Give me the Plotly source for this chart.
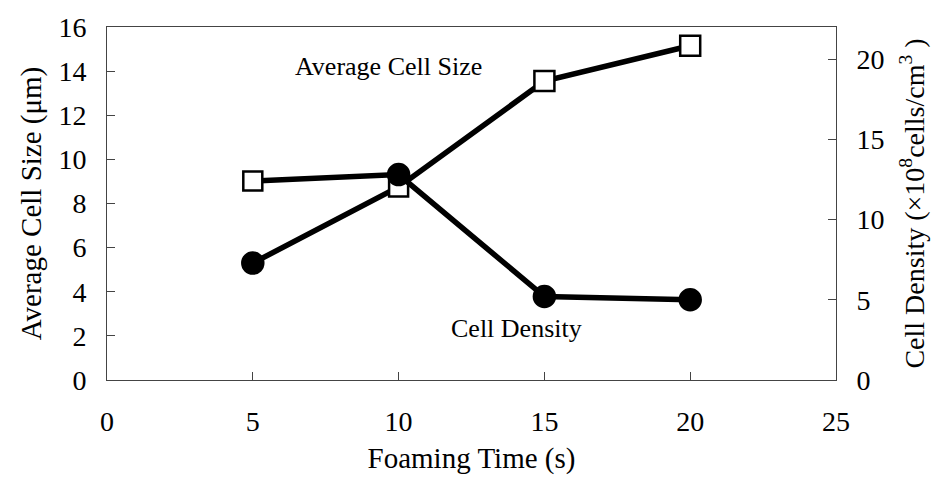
import plotly.graph_objects as go

# Foaming time (s)
foaming_time = [5, 10, 15, 20]

# Average cell size (μm) – left axis
cell_size = [5.3, 8.75, 13.55, 15.15]
size_symbols = ["circle", "square", "square", "square"]
size_fill = ["black", "white", "white", "white"]
size_sizes = [21, 19, 20, 20]

# Cell density (×10^8 cells/cm^3) – right axis
cell_density = [12.4, 12.8, 5.2, 5.0]
density_symbols = ["square", "circle", "circle", "circle"]
density_fill = ["white", "black", "black", "black"]
density_sizes = [19, 21, 21, 21]

# Axis ticks
x_ticks = [0, 5, 10, 15, 20, 25]
left_ticks = [0, 2, 4, 6, 8, 10, 12, 14, 16]
right_ticks = [0, 5, 10, 15, 20]

FONT = "Liberation Serif"
AXIS_COLOR = "#444444"

fig = go.Figure()

fig.add_trace(go.Scatter(
    x=foaming_time, y=cell_size, yaxis="y",
    mode="lines+markers", name="Average Cell Size",
    line=dict(color="black", width=5.5),
    marker=dict(symbol=size_symbols, color=size_fill, size=size_sizes,
                opacity=1, line=dict(color="black", width=2.5)),
    opacity=1,
    showlegend=False,
))

fig.add_trace(go.Scatter(
    x=foaming_time, y=cell_density, yaxis="y2",
    mode="lines+markers", name="Cell Density",
    line=dict(color="black", width=5.5),
    marker=dict(symbol=density_symbols, color=density_fill, size=density_sizes,
                opacity=1, line=dict(color="black", width=2.5)),
    opacity=1,
    showlegend=False,
))

fig.update_layout(
    width=941, height=491,
    margin=dict(l=107, r=105, t=21, b=111),
    paper_bgcolor="white", plot_bgcolor="white",
    font=dict(family=FONT, color="black", size=27),
    xaxis=dict(
        range=[0, 25], tickvals=x_ticks, showgrid=False, zeroline=False,
        showline=True, linecolor=AXIS_COLOR, linewidth=1, mirror=True,
        ticks="inside", ticklen=8, tickcolor=AXIS_COLOR,
        ticklabelstandoff=16,
        tickfont=dict(size=28),
        title=dict(text="Foaming Time (s)", font=dict(size=29), standoff=12),
    ),
    yaxis=dict(
        range=[0, 16], tickvals=left_ticks, showgrid=False, zeroline=False,
        showline=True, linecolor=AXIS_COLOR, linewidth=1,
        ticks="inside", ticklen=8, tickcolor=AXIS_COLOR,
        ticklabelstandoff=14,
        tickfont=dict(size=28),
        title=dict(text="Average Cell Size (μm)", font=dict(size=29), standoff=8),
    ),
    yaxis2=dict(
        range=[0, 22], tickvals=right_ticks, overlaying="y", side="right",
        showgrid=False, zeroline=False,
        showline=True, linecolor=AXIS_COLOR, linewidth=1,
        ticks="inside", ticklen=8, tickcolor=AXIS_COLOR,
        ticklabelstandoff=14,
        tickfont=dict(size=28),
        title=dict(text="Cell Density (×10<sup>8</sup>cells/cm<sup>3</sup> )",
                   font=dict(size=28), standoff=20),
    ),
    annotations=[
        dict(text="Average Cell Size", x=9.64, y=14.2, xref="x", yref="y",
             showarrow=False, font=dict(size=26)),
        dict(text="Cell Density", x=14.06, y=2.32, xref="x", yref="y",
             showarrow=False, font=dict(size=26)),
    ],
)

fig.write_html("out.html")
